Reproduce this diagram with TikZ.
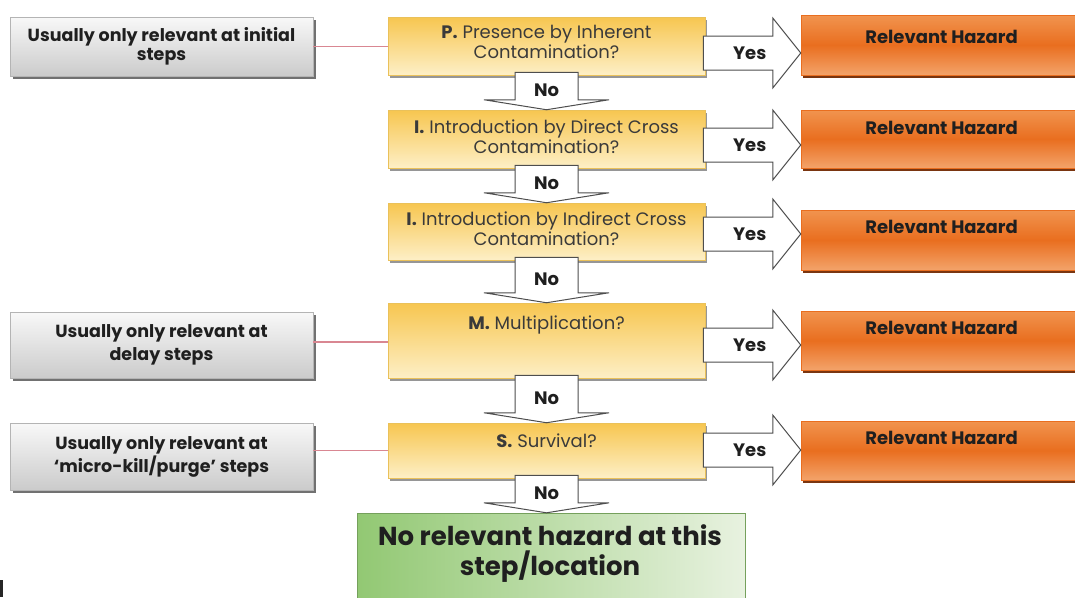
\documentclass[tikz,border=0pt]{standalone}
\usepackage{fontspec}
\setmainfont{Poppins}
\usetikzlibrary{shadows,calc}

\definecolor{inkdark}{HTML}{1F1F1F}
\definecolor{inkgray}{HTML}{3A3A3A}
\definecolor{grayTop}{HTML}{F8F8F8}
\definecolor{grayBot}{HTML}{CBCBCB}
\definecolor{grayEdge}{HTML}{B4B4B4}
\definecolor{goldTop}{HTML}{F7C650}
\definecolor{goldBot}{HTML}{FDEFC6}
\definecolor{goldEdge}{HTML}{EAC15A}
\definecolor{orTop}{HTML}{F1944F}
\definecolor{orMid}{HTML}{E96E1F}
\definecolor{orBot}{HTML}{F3A36A}
\definecolor{orShadow}{HTML}{7A3510}
\definecolor{grnA}{HTML}{92C873}
\definecolor{grnB}{HTML}{E8F2E0}
\definecolor{arrowEdge}{HTML}{4E4E4E}
\definecolor{linkPink}{HTML}{D98792}

% downward "No" block arrow from one box to the next
\newcommand\noarrow[3]{%
  \draw[blockarrow] ($(#1.south)+(-31.5,-3)$) -- ($(#1.south)+(31.5,-3)$)
    -- ($(#1.south |- #2.north)+(31.5,-10)$) -- ($(#1.south |- #2.north)+(62.5,-10)$)
    -- (#1.south |- #2.north) -- ($(#1.south |- #2.north)+(-62.5,-10)$)
    -- ($(#1.south |- #2.north)+(-31.5,-10)$) -- cycle;
  \node[arrowtext] (#3) at ($(#1.south)!0.5!($(#1.south |- #2.north)+(0,-10)$)+(0,3)$) {No};}

% rightward "Yes" block arrow from a question to its hazard box
\newcommand\yesarrow[4]{%
  \coordinate (#3c) at (0,#4);
  \draw[blockarrow] ($(#1.east |- #3c)+(-2,-17)$) -- ($(#2.west |- #3c)+(-28,-17)$)
    -- ($(#2.west |- #3c)+(-28,-35)$) -- (#2.west |- #3c)
    -- ($(#2.west |- #3c)+(-28,35)$) -- ($(#2.west |- #3c)+(-28,17)$)
    -- ($(#1.east |- #3c)+(-2,17)$) -- cycle;
  \node[arrowtext] (#3) at ($(#2.west |- #3c)+(-51,0)$) {Yes};}

\tikzset{
  graybox/.style={draw=grayEdge, line width=0.6pt, top color=grayTop, bottom color=grayBot,
    drop shadow={shadow xshift=2.5pt, shadow yshift=-3pt, fill=black!65, opacity=0.85},
    minimum width=303pt, inner sep=0pt, align=center, text=inkdark,
    font=\fontsize{17.5}{23}\selectfont\bfseries},
  goldbox/.style={draw=goldEdge, line width=0.5pt, top color=goldTop, bottom color=goldBot,
    drop shadow={shadow xshift=2pt, shadow yshift=-3pt, fill=black!55, opacity=0.75},
    minimum width=317pt, inner sep=0pt},
  goldtext/.style={align=center, text=inkgray, inner sep=0pt,
    font=\fontsize{18}{20}\selectfont},
  hazbox/.style={draw=orMid, line width=0.5pt, top color=orTop, bottom color=orBot, middle color=orMid,
    drop shadow={shadow xshift=2pt, shadow yshift=-2.5pt, fill=orShadow, opacity=1},
    minimum width=281pt, inner sep=0pt},
  haztext/.style={text=inkdark, inner sep=0pt, font=\fontsize{18}{20}\selectfont\bfseries},
  endbox/.style={draw=grnA!80!black, line width=0.4pt, left color=grnA, right color=grnB,
    minimum width=388pt, minimum height=90pt, inner sep=0pt},
  endtext/.style={align=center, text=inkdark, inner sep=0pt, font=\fontsize{26}{30}\selectfont\bfseries},
  blockarrow/.style={fill=white, draw=arrowEdge, line width=1pt, line join=miter},
  arrowtext/.style={text=inkdark, inner sep=0pt, font=\fontsize{18}{20}\selectfont\bfseries},
  pinkline/.style={draw=linkPink, line width=1.5pt},
}

\begin{document}
\begin{tikzpicture}[x=1pt,y=-1pt]
\path[use as bounding box, clip] (0,0) rectangle (1075,597);
\fill[white] (0,0) rectangle (1075,597);

% side notes
\node[graybox, minimum height=59pt] (g1) at (161.5,46.5) {Usually only relevant at initial\\[-4pt]steps};
\node[graybox, minimum height=66pt] (g2) at (161.5,345) {Usually only relevant at\\delay steps};
\node[graybox, minimum height=67pt] (g3) at (161.5,456.5) {Usually only relevant at\\‘micro-kill/purge’ steps};

% question boxes
\node[goldbox, minimum height=58pt] (p1) at (546.5,46) {};
\node[goldbox, minimum height=58pt] (p2) at (546.5,139) {};
\node[goldbox, minimum height=57pt] (p3) at (546.5,231.5) {};
\node[goldbox, minimum height=75pt] (p4) at (546.5,340.5) {};
\node[goldbox, minimum height=55pt] (p5) at (546.5,450.5) {};

\node[goldtext] (p1t) at ($(p1.north)+(0,25.5)$) {\textbf{P.} Presence by Inherent\\Contamination?};
\node[goldtext] (p2t) at ($(p2.north)+(0,26.5)$) {\textbf{I.} Introduction by Direct Cross\\Contamination?};
\node[goldtext] (p3t) at ($(p3.north)+(0,25.5)$) {\textbf{I.} Introduction by Indirect Cross\\Contamination?};
\node[goldtext] (p4t) at ($(p4.north)+(0,22)$) {\textbf{M.} Multiplication?};
\node[goldtext] (p5t) at ($(p5.north)+(0,18)$) {\textbf{S.} Survival?};

% hazard outcomes
\node[hazbox, minimum height=60pt] (h1) at (941.5,45) {};
\node[hazbox, minimum height=58pt] (h2) at (941.5,139) {};
\node[hazbox, minimum height=60pt] (h3) at (941.5,240) {};
\node[hazbox, minimum height=59pt] (h4) at (941.5,340.5) {};
\node[hazbox, minimum height=59pt] (h5) at (941.5,450.5) {};
\foreach \k/\d in {1/22,2/18,3/17,4/17,5/17}
  \node[haztext] (h\k t) at ($(h\k.north)+(0,\d)$) {Relevant Hazard};

% final outcome
\node[endbox] (fin) at (551,558) {};
\node[endtext] (fint) at (550,554) {No relevant hazard at this\\step/location};

% links from side notes
\draw[pinkline] (g1.east) -- (g1.east -| p1.west);
\draw[pinkline] ($(g2.east)+(0,-3)$) -- ($(g2.east -| p4.west)+(0,-3)$);
\draw[pinkline] ($(g3.east)+(0,-6)$) -- ($(g3.east -| p5.west)+(0,-6)$);

% "No" arrows
\noarrow{p1}{p2}{n1}
\noarrow{p2}{p3}{n2}
\noarrow{p3}{p4}{n3}
\noarrow{p4}{p5}{n4}
\noarrow{p5}{fin}{n5}

% "Yes" arrows
\yesarrow{p1}{h1}{y1}{53}
\yesarrow{p2}{h2}{y2}{145}
\yesarrow{p3}{h3}{y3}{234}
\yesarrow{p4}{h4}{y4}{345}
\yesarrow{p5}{h5}{y5}{450}

% margin mark
\fill[black!85] (0,580) rectangle (3,597);
\end{tikzpicture}
\end{document}
